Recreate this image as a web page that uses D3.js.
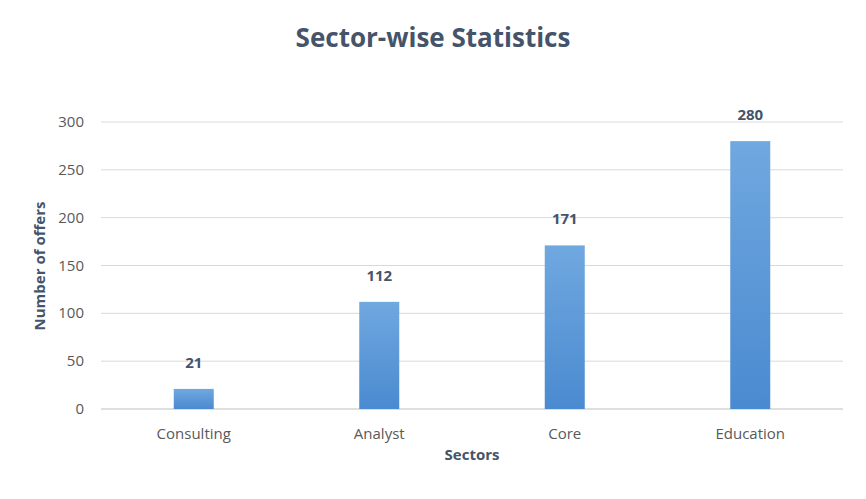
<!DOCTYPE html>
<html><head><meta charset="utf-8">
<script src="https://cdn.jsdelivr.net/npm/d3@7"></script>
<style>body{margin:0;background:#fff}svg{font-family:"Open Sans","Liberation Sans",sans-serif}</style>
</head><body><svg id="c" width="866" height="499"></svg>
<script>
const categories=["Consulting","Analyst","Core","Education"];
const values=[21,112,171,280];
const yTicks=[0,50,100,150,200,250,300];

const svg=d3.select("#c");
const m={l:101,r:843,t:122,b:409};
const x=d3.scaleBand().domain(categories).range([m.l,m.r]);
const y=d3.scaleLinear().domain([0,300]).range([m.b,m.t]);

const defs=svg.append("defs");
const g=defs.append("linearGradient").attr("id","bg").attr("x1",0).attr("x2",0).attr("y1",0).attr("y2",1);
g.append("stop").attr("offset","0%").attr("stop-color","#70a8e0");
g.append("stop").attr("offset","100%").attr("stop-color","#4a8ad0");

svg.append("text").attr("x",433).attr("y",47).attr("text-anchor","middle")
 .attr("font-size",26).attr("font-weight","bold").attr("fill","#44546a").text("Sector-wise Statistics");

svg.append("g").selectAll("line").data(yTicks).join("line")
 .attr("x1",m.l).attr("x2",m.r).attr("y1",d=>y(d)).attr("y2",d=>y(d))
 .attr("stroke",d=>d===0?"#bfbfbf":"#d9d9d9").attr("stroke-width",1);

svg.append("g").selectAll("text").data(yTicks).join("text")
 .attr("x",84).attr("y",d=>y(d)+5).attr("text-anchor","end")
 .attr("font-size",15).attr("fill","#595959").text(d=>d);

const bw=40;
svg.append("g").selectAll("rect").data(values).join("rect")
 .attr("x",(d,i)=>x(categories[i])+x.bandwidth()/2-bw/2).attr("width",bw)
 .attr("y",d=>y(d)).attr("height",d=>y(0)-y(d)).attr("fill","url(#bg)");

svg.append("g").selectAll("text").data(values).join("text")
 .attr("x",(d,i)=>x(categories[i])+x.bandwidth()/2).attr("y",d=>y(d)-21)
 .attr("text-anchor","middle").attr("font-size",15).attr("font-weight","bold")
 .attr("fill","#44546a").text(d=>d);

svg.append("g").selectAll("text").data(categories).join("text")
 .attr("x",d=>x(d)+x.bandwidth()/2).attr("y",439).attr("text-anchor","middle")
 .attr("font-size",15).attr("fill","#595959").text(d=>d);

svg.append("text").attr("x",472).attr("y",460).attr("text-anchor","middle")
 .attr("font-size",15).attr("font-weight","bold").attr("fill","#44546a").text("Sectors");
svg.append("text").attr("transform","translate(45,266) rotate(-90)").attr("text-anchor","middle")
 .attr("font-size",15).attr("font-weight","bold").attr("fill","#44546a").text("Number of offers");
</script></body></html>
